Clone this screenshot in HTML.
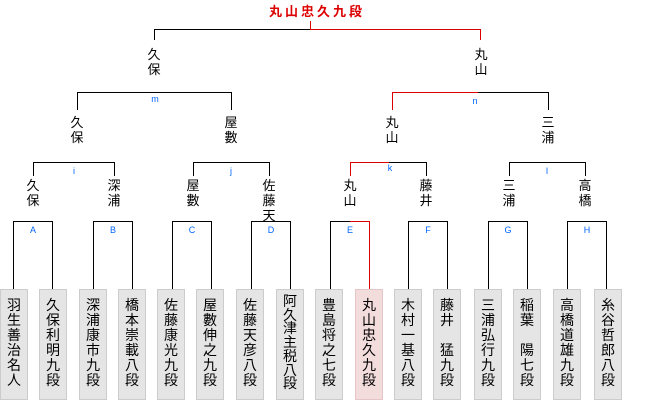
<!DOCTYPE html>
<html><head><meta charset="utf-8"><style>
body{margin:0;background:#fff;width:660px;height:400px;position:relative;overflow:hidden;font-family:"Liberation Sans","Noto Sans CJK JP",sans-serif;}
.b{position:absolute;border:1px solid #000;border-bottom:none;box-sizing:border-box;}
.l{position:absolute;background:#d00;}
.lab{position:absolute;color:#0066ff;font-size:9px;width:20px;text-align:center;line-height:10px;}
.n{position:absolute;width:20px;text-align:center;font-size:13px;line-height:15px;color:#000;}
.box{position:absolute;top:289px;width:28px;height:111px;background:#e5e5e5;border:1px solid #ccc;box-sizing:border-box;font-size:14px;line-height:15px;text-align:center;padding-top:8px;color:#000;}
.box.r{background:#f3dcdc;border-color:#e5c5c5;}
</style></head><body>
<div style="position:absolute;left:267px;top:4px;width:100px;text-align:center;color:#d00;font-weight:bold;font-size:13px;letter-spacing:3px;line-height:16px;">丸山忠久九段</div>
<div class="b" style="left:154px;top:29px;width:327px;height:11px;"></div>
<div class="l" style="left:310px;top:21px;width:1px;height:9px;"></div>
<div class="l" style="left:310px;top:29px;width:171px;height:1px;"></div>
<div class="l" style="left:480px;top:29px;width:1px;height:11px;"></div>
<div class="n" style="left:144px;top:47px;">久<br>保</div>
<div class="n" style="left:471px;top:47px;">丸<br>山</div>
<div class="b" style="left:77px;top:92px;width:155px;height:18px;"></div>
<div class="lab" style="left:145px;top:94px;">m</div>
<div class="b" style="left:392px;top:92px;width:157px;height:18px;"></div>
<div class="l" style="left:392px;top:92px;width:86px;height:1px;"></div>
<div class="l" style="left:392px;top:92px;width:1px;height:18px;"></div>
<div class="lab" style="left:465px;top:96px;">n</div>
<div class="n" style="left:67px;top:115px;">久<br>保</div>
<div class="n" style="left:221px;top:115px;">屋<br>數</div>
<div class="n" style="left:382px;top:115px;">丸<br>山</div>
<div class="n" style="left:538px;top:115px;">三<br>浦</div>
<div class="b" style="left:33px;top:162px;width:82px;height:14px;"></div>
<div class="lab" style="left:64px;top:166px;">i</div>
<div class="b" style="left:193px;top:162px;width:77px;height:14px;"></div>
<div class="lab" style="left:221px;top:166px;">j</div>
<div class="b" style="left:350px;top:162px;width:77px;height:14px;"></div>
<div class="l" style="left:350px;top:162px;width:39px;height:1px;"></div>
<div class="l" style="left:350px;top:162px;width:1px;height:14px;"></div>
<div class="lab" style="left:380px;top:163px;">k</div>
<div class="b" style="left:509px;top:162px;width:77px;height:14px;"></div>
<div class="lab" style="left:537px;top:166px;">l</div>
<div class="n" style="left:23px;top:178px;">久<br>保</div>
<div class="n" style="left:104px;top:178px;">深<br>浦</div>
<div class="n" style="left:183px;top:178px;">屋<br>數</div>
<div class="n" style="left:259px;top:178px;">佐<br>藤<br>天</div>
<div class="n" style="left:340px;top:178px;">丸<br>山</div>
<div class="n" style="left:416px;top:178px;">藤<br>井</div>
<div class="n" style="left:499px;top:178px;">三<br>浦</div>
<div class="n" style="left:575px;top:178px;">高<br>橋</div>
<div class="b" style="left:13px;top:221px;width:40px;height:68px;"></div><div class="lab" style="left:23px;top:225px;">A</div>
<div class="b" style="left:93px;top:221px;width:40px;height:68px;"></div><div class="lab" style="left:103px;top:225px;">B</div>
<div class="b" style="left:172px;top:221px;width:40px;height:68px;"></div><div class="lab" style="left:182px;top:225px;">C</div>
<div class="b" style="left:251px;top:221px;width:40px;height:68px;"></div><div class="lab" style="left:261px;top:225px;">D</div>
<div class="b" style="left:330px;top:221px;width:40px;height:68px;"></div><div class="lab" style="left:340px;top:225px;">E</div>
<div class="l" style="left:350px;top:221px;width:20px;height:1px;"></div>
<div class="l" style="left:369px;top:221px;width:1px;height:68px;"></div>
<div class="b" style="left:408px;top:221px;width:40px;height:68px;"></div><div class="lab" style="left:418px;top:225px;">F</div>
<div class="b" style="left:488px;top:221px;width:40px;height:68px;"></div><div class="lab" style="left:498px;top:225px;">G</div>
<div class="b" style="left:567px;top:221px;width:40px;height:68px;"></div><div class="lab" style="left:577px;top:225px;">H</div>
<div class="box" style="left:0px;">羽<br>生<br>善<br>治<br>名<br>人</div>
<div class="box" style="left:39px;">久<br>保<br>利<br>明<br>九<br>段</div>
<div class="box" style="left:79px;">深<br>浦<br>康<br>市<br>九<br>段</div>
<div class="box" style="left:118px;">橋<br>本<br>崇<br>載<br>八<br>段</div>
<div class="box" style="left:157px;">佐<br>藤<br>康<br>光<br>九<br>段</div>
<div class="box" style="left:196px;">屋<br>數<br>伸<br>之<br>九<br>段</div>
<div class="box" style="left:236px;">佐<br>藤<br>天<br>彦<br>八<br>段</div>
<div class="box" style="left:276px;padding-top:5px;line-height:13.7px;">阿<br>久<br>津<br>主<br>税<br>八<br>段</div>
<div class="box" style="left:315px;">豊<br>島<br>将<br>之<br>七<br>段</div>
<div class="box r" style="left:355px;">丸<br>山<br>忠<br>久<br>九<br>段</div>
<div class="box" style="left:394px;">木<br>村<br>一<br>基<br>八<br>段</div>
<div class="box" style="left:433px;">藤<br>井<br>　<br>猛<br>九<br>段</div>
<div class="box" style="left:474px;">三<br>浦<br>弘<br>行<br>九<br>段</div>
<div class="box" style="left:513px;">稲<br>葉<br>　<br>陽<br>七<br>段</div>
<div class="box" style="left:553px;">高<br>橋<br>道<br>雄<br>九<br>段</div>
<div class="box" style="left:594px;">糸<br>谷<br>哲<br>郎<br>八<br>段</div>
</body></html>
